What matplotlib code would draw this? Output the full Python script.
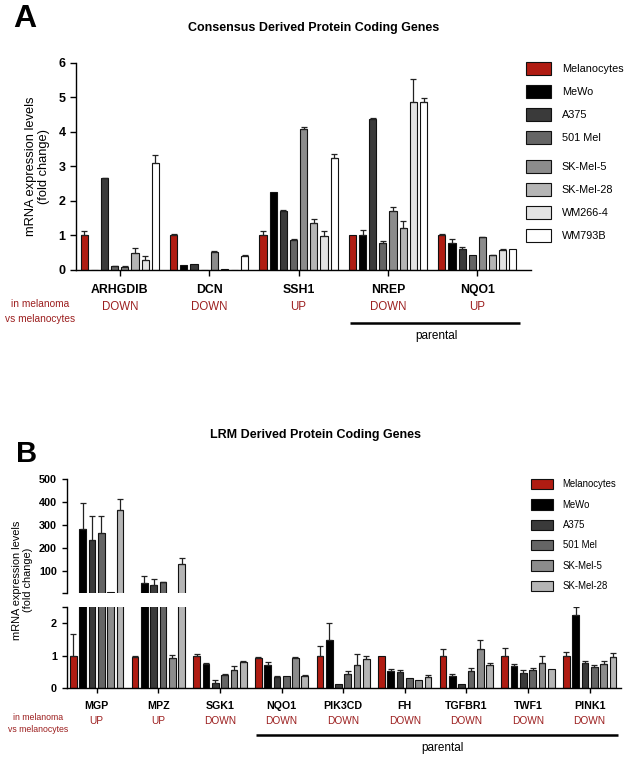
import matplotlib
matplotlib.use('Agg')
import matplotlib.pyplot as plt
import numpy as np
from matplotlib.transforms import blended_transform_factory

plt.rcParams['font.family'] = ['Liberation Sans', 'DejaVu Sans']

# ---------------- Panel A data ----------------
genes_a = ['ARHGDIB', 'DCN', 'SSH1', 'NREP', 'NQO1']
direction_a = ['DOWN', 'DOWN', 'UP', 'DOWN', 'UP']
lines_a = ['Melanocytes', 'MeWo', 'A375', '501 Mel', 'SK-Mel-5', 'SK-Mel-28', 'WM266-4', 'WM793B']
melanocytes_a = [1.00, 1.00, 1.00, 1.00, 1.00]
mewo_a        = [0.00, 0.14, 2.25, 1.00, 0.78]
a375_a        = [2.65, 0.16, 1.70, 4.38, 0.60]
mel501_a      = [0.11, 0.00, 0.88, 0.78, 0.42]
skmel5_a      = [0.10, 0.53, 4.07, 1.70, 0.95]
skmel28_a     = [0.49, 0.03, 1.37, 1.23, 0.42]
wm2664_a      = [0.30, 0.01, 0.98, 4.86, 0.58]
wm793b_a      = [3.11, 0.41, 3.25, 4.86, 0.62]
melanocytes_a_err = [0.12, 0.03, 0.14, 0.00, 0.03]
mewo_a_err        = [0.00, 0.00, 0.00, 0.17, 0.11]
a375_a_err        = [0.02, 0.00, 0.04, 0.03, 0.06]
mel501_a_err      = [0.01, 0.00, 0.02, 0.05, 0.00]
skmel5_a_err      = [0.02, 0.01, 0.07, 0.13, 0.01]
skmel28_a_err     = [0.16, 0.00, 0.12, 0.18, 0.01]
wm2664_a_err      = [0.10, 0.00, 0.15, 0.66, 0.02]
wm793b_a_err      = [0.22, 0.02, 0.12, 0.12, 0.00]
yticks_a = [0, 1, 2, 3, 4, 5, 6]

# ---------------- Panel B data ----------------
genes_b = ['MGP', 'MPZ', 'SGK1', 'NQO1', 'PIK3CD', 'FH', 'TGFBR1', 'TWF1', 'PINK1']
direction_b = ['UP', 'UP', 'DOWN', 'DOWN', 'DOWN', 'DOWN', 'DOWN', 'DOWN', 'DOWN']
lines_b = ['Melanocytes', 'MeWo', 'A375', '501 Mel', 'SK-Mel-5', 'SK-Mel-28']
melanocytes_b = [1.00, 0.95, 1.00, 0.92, 1.00, 1.00, 1.00, 1.00, 1.00]
mewo_b        = [281, 49, 0.73, 0.70, 1.49, 0.53, 0.38, 0.69, 2.24]
a375_b        = [234, 38, 0.17, 0.35, 0.12, 0.49, 0.13, 0.47, 0.77]
mel501_b      = [266, 50, 0.40, 0.38, 0.43, 0.32, 0.53, 0.55, 0.66]
skmel5_b      = [6, 0.93, 0.57, 0.92, 0.72, 0.25, 1.20, 0.79, 0.75]
skmel28_b     = [365, 128, 0.81, 0.38, 0.91, 0.34, 0.72, 0.59, 0.97]
melanocytes_b_err = [0.65, 0.05, 0.05, 0.03, 0.31, 0.00, 0.20, 0.23, 0.12]
mewo_b_err        = [113, 27, 0.03, 0.11, 0.51, 0.06, 0.06, 0.06, 0.26]
a375_b_err        = [103, 25, 0.08, 0.04, 0.00, 0.06, 0.00, 0.08, 0.07]
mel501_b_err      = [73, 2, 0.04, 0.00, 0.11, 0.00, 0.08, 0.07, 0.06]
skmel5_b_err      = [0, 0.10, 0.10, 0.03, 0.33, 0.00, 0.29, 0.19, 0.09]
skmel28_b_err     = [50, 27, 0.03, 0.02, 0.07, 0.06, 0.07, 0.00, 0.12]
yticks_b_upper = [2.5, 100, 200, 300, 400, 500]
yticklabels_b_upper = ['', '100', '200', '300', '400', '500']
yticks_b_lower = [0, 1, 2, 2.5]
yticklabels_b_lower = ['0', '1', '2', '']

colors = {'Melanocytes': '#b01c12', 'MeWo': '#000000', 'A375': '#3a3a3a',
          '501 Mel': '#656565', 'SK-Mel-5': '#8c8c8c', 'SK-Mel-28': '#b5b5b5',
          'WM266-4': '#e3e3e3', 'WM793B': '#ffffff'}
RED = '#9c1f1f'

vals_a = [melanocytes_a, mewo_a, a375_a, mel501_a, skmel5_a, skmel28_a, wm2664_a, wm793b_a]
errs_a = [melanocytes_a_err, mewo_a_err, a375_a_err, mel501_a_err, skmel5_a_err,
          skmel28_a_err, wm2664_a_err, wm793b_a_err]
vals_b = [melanocytes_b, mewo_b, a375_b, mel501_b, skmel5_b, skmel28_b]
errs_b = [melanocytes_b_err, mewo_b_err, a375_b_err, mel501_b_err, skmel5_b_err, skmel28_b_err]

W, H = 625, 760
fig = plt.figure(figsize=(W / 100, H / 100), dpi=100)


def fx(px):
    return px / W


def fy(py):
    return 1 - py / H


def draw_bars(ax, vals, errs, names, spacing, width, floor=None):
    x0 = np.arange(len(vals[0]))
    n = len(vals)
    conts = []
    for i, (v, e, name) in enumerate(zip(vals, errs, names)):
        x = x0 + (i - (n - 1) / 2) * spacing
        v = np.asarray(v, float)
        e = np.asarray(e, float)
        keep = np.ones(len(v), bool) if floor is None else v > floor
        c = ax.bar(x[keep], v[keep], width, color=colors[name], edgecolor='#111111',
                   linewidth=0.8, label=name, zorder=2)
        conts.append(c)
        m = (e > 0) & keep
        if m.any():
            ax.errorbar(x[m], v[m], yerr=[np.zeros(m.sum()), e[m]], fmt='none',
                        ecolor='#222222', elinewidth=0.9, capsize=2.2, capthick=0.9, zorder=3)
    return conts


def style(ax):
    for s in ['top', 'right']:
        ax.spines[s].set_visible(False)
    for s in ['left', 'bottom']:
        ax.spines[s].set_linewidth(1.0)
    ax.tick_params(direction='out', length=4, width=1.0)


# ================= Panel A =================
axA = fig.add_axes([fx(76), fy(270), fx(531) - fx(76), fy(62.7) - fy(270)])
conts_a = draw_bars(axA, vals_a, errs_a, lines_a, 0.1136, 0.08)
axA.set_xlim(-0.49, 4.6)
axA.set_ylim(0, 6)
axA.set_yticks(yticks_a)
axA.set_xticks(np.arange(len(genes_a)))
axA.set_xticklabels(genes_a)
style(axA)
for lab in axA.get_yticklabels():
    lab.set_fontweight('bold'); lab.set_fontsize(9)
for lab in axA.get_xticklabels():
    lab.set_fontweight('bold'); lab.set_fontsize(8.8)
axA.tick_params(axis='x', pad=6)

fig.text(fx(314), fy(28), 'Consensus Derived Protein Coding Genes', ha='center', va='center',
         fontsize=9, fontweight='bold')
fig.text(fx(13), fy(27), 'A', fontsize=23, fontweight='bold', ha='left', va='baseline')
fig.text(fx(37.5), fy(166), 'mRNA expression levels\n(fold change)', rotation=90,
         ha='center', va='center', fontsize=9.3, linespacing=1.15)

trA = blended_transform_factory(axA.transData, fig.transFigure)
for i, d in enumerate(direction_a):
    fig.text(i, fy(307), d, transform=trA, ha='center', va='center', color=RED, fontsize=8.3)
fig.text(fx(40), fy(304), 'in melanoma', ha='center', va='center', color=RED, fontsize=7.3)
fig.text(fx(40), fy(319), 'vs melanocytes', ha='center', va='center', color=RED, fontsize=7.3)
axA.plot([2.57, 4.48], [fy(323), fy(323)], transform=trA, color='black', lw=1.8,
         clip_on=False, solid_capstyle='butt')
fig.text(3.54, fy(336), 'parental', transform=trA, ha='center', va='center', fontsize=8.5)

legkw = dict(bbox_transform=fig.transFigure, frameon=False, borderpad=0, borderaxespad=0,
             loc='upper left')
fsA = 7.8
legA1 = axA.legend(handles=conts_a[:4], bbox_to_anchor=(fx(526), fy(62)),
                   handlelength=2.3, handleheight=1.4, labelspacing=0.97, handletextpad=1.0,
                   prop={'size': fsA}, **legkw)
axA.add_artist(legA1)
axA.legend(handles=conts_a[4:], bbox_to_anchor=(fx(526), fy(160)),
           handlelength=2.3, handleheight=1.4, labelspacing=0.97, handletextpad=1.0,
           prop={'size': fsA}, **legkw)

# ================= Panel B =================
left_b, right_b = fx(66.7), fx(621)
axBu = fig.add_axes([left_b, fy(593.3), right_b - left_b, fy(479) - fy(593.3)])
axBl = fig.add_axes([left_b, fy(688.3), right_b - left_b, fy(606.7) - fy(688.3)])
conts_b = draw_bars(axBl, vals_b, errs_b, lines_b, 0.151, 0.108)
draw_bars(axBu, vals_b, errs_b, lines_b, 0.151, 0.108, floor=yticks_b_upper[0])
for ax in (axBu, axBl):
    ax.set_xlim(-0.487, 8.51)
    style(ax)
axBu.set_ylim(yticks_b_upper[0], 500)
axBl.set_ylim(0, yticks_b_lower[-1])
axBu.spines['bottom'].set_visible(False)
axBu.set_xticks([])
axBu.set_yticks(yticks_b_upper)
axBu.set_yticklabels(yticklabels_b_upper)
axBl.set_yticks(yticks_b_lower)
axBl.set_yticklabels(yticklabels_b_lower)
axBl.set_xticks(np.arange(len(genes_b)))
axBl.set_xticklabels(genes_b)
for ax in (axBu, axBl):
    ax.tick_params(length=3.5)
    for lab in ax.get_yticklabels():
        lab.set_fontweight('bold'); lab.set_fontsize(7.8)
for lab in axBl.get_xticklabels():
    lab.set_fontweight('bold'); lab.set_fontsize(7.7)
axBl.tick_params(axis='x', pad=6)

fig.text(fx(315), fy(435), 'LRM Derived Protein Coding Genes', ha='center', va='center',
         fontsize=9, fontweight='bold')
fig.text(fx(16), fy(462), 'B', fontsize=21, fontweight='bold', ha='left', va='baseline')
fig.text(fx(22.5), fy(580), 'mRNA expression levels\n(fold change)', rotation=90,
         ha='center', va='center', fontsize=7.9, linespacing=1.15)

trB = blended_transform_factory(axBl.transData, fig.transFigure)
for i, d in enumerate(direction_b):
    fig.text(i, fy(721), d, transform=trB, ha='center', va='center', color=RED, fontsize=7.3)
fig.text(fx(38), fy(717), 'in melanoma', ha='center', va='center', color=RED, fontsize=6.3)
fig.text(fx(38), fy(730), 'vs melanocytes', ha='center', va='center', color=RED, fontsize=6.3)
axBl.plot([2.59, 8.46], [fy(735), fy(735)], transform=trB, color='black', lw=1.8,
          clip_on=False, solid_capstyle='butt')
fig.text(5.61, fy(748), 'parental', transform=trB, ha='center', va='center', fontsize=8.5)

axBl.legend(handles=conts_b, bbox_to_anchor=(fx(531), fy(479)),
            handlelength=2.3, handleheight=1.3, labelspacing=1.03, handletextpad=1.0,
            prop={'size': 6.9}, **legkw)

fig.savefig('out.png', dpi=100)
